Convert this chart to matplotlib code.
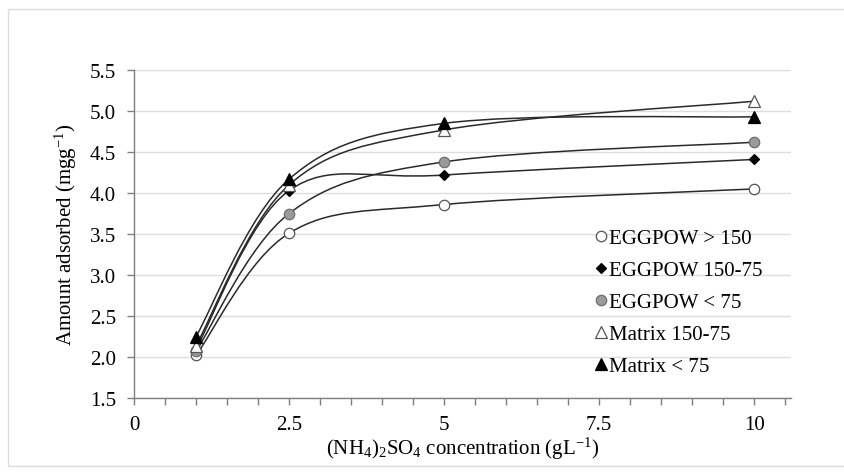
import matplotlib
matplotlib.use("Agg")
import matplotlib.pyplot as plt
from matplotlib.path import Path
from matplotlib.patches import PathPatch, Rectangle

plt.rcParams['font.family'] = ['Liberation Serif', 'DejaVu Serif']
plt.rcParams['mathtext.fontset'] = 'custom'
plt.rcParams['mathtext.rm'] = 'Liberation Serif'
plt.rcParams['mathtext.it'] = 'Liberation Serif:italic'

# data
conc = [1, 2.5, 5, 10]
eggpow_gt150 = [2.02, 3.51, 3.86, 4.05]
eggpow_150_75 = [2.10, 4.03, 4.22, 4.41]
eggpow_lt75 = [2.07, 3.75, 4.38, 4.62]
matrix_150_75 = [2.14, 4.10, 4.77, 5.12]
matrix_lt75 = [2.25, 4.17, 4.85, 4.93]

labels = ["EGGPOW > 150", "EGGPOW 150-75", "EGGPOW < 75", "Matrix 150-75", "Matrix < 75"]
x_ticks = [0, 2.5, 5, 7.5, 10]
x_tick_labels = ["0", "2.5", "5", "7.5", "10"]


def smooth_path(xs, ys):
    # Excel-like smoothed line: Bezier segments with Catmull-Rom control points
    pts = list(zip(xs, ys))
    n = len(pts)
    verts = [pts[0]]
    codes = [Path.MOVETO]
    for i in range(n - 1):
        p_prev = pts[i - 1] if i > 0 else pts[i]
        p0 = pts[i]
        p1 = pts[i + 1]
        p_next = pts[i + 2] if i + 2 < n else pts[i + 1]
        c1 = (p0[0] + (p1[0] - p_prev[0]) / 6, p0[1] + (p1[1] - p_prev[1]) / 6)
        c2 = (p1[0] - (p_next[0] - p0[0]) / 6, p1[1] - (p_next[1] - p0[1]) / 6)
        verts += [c1, c2, p1]
        codes += [Path.CURVE4] * 3
    return Path(verts, codes)


fig = plt.figure(figsize=(8.45, 4.77), dpi=100)
ax = fig.add_axes([0.1586, 0.1635, 0.778, 0.6875])

# faint outer frame of the chart area
fig.patches.append(Rectangle((0.01, 0.022), 1.2, 0.957, transform=fig.transFigure,
                             fill=False, edgecolor='#dcdcdc', linewidth=1))

series = [eggpow_gt150, eggpow_150_75, eggpow_lt75, matrix_150_75, matrix_lt75]
styles = [
    dict(marker='o', markerfacecolor='white', markeredgecolor='#555555', markersize=7.5),
    dict(marker='D', markerfacecolor='black', markeredgecolor='black', markersize=5.5),
    dict(marker='o', markerfacecolor='#9a9a9a', markeredgecolor='#6e6e6e', markersize=7.5),
    dict(marker='^', markerfacecolor='white', markeredgecolor='#555555', markersize=8),
    dict(marker='^', markerfacecolor='black', markeredgecolor='black', markersize=8),
]

for ys in series:
    ax.add_patch(PathPatch(smooth_path(conc, ys), fill=False, edgecolor='#2a2a2a',
                           linewidth=1.1, zorder=2))

for ys, lab, st in zip(series, labels, styles):
    ax.plot(conc, ys, linestyle='none', label=lab, zorder=3, markeredgewidth=0.9, **st)

ax.set_xlim(0, 10.6)
ax.set_ylim(1.5, 5.5)
ax.set_xticks(x_ticks)
ax.set_xticklabels(x_tick_labels)
ax.set_xticks([v * 0.5 for v in range(22) if v * 0.5 <= 10.6], minor=True)
ax.set_yticks([1.5 + 0.5 * i for i in range(9)])
ax.yaxis.set_major_formatter(matplotlib.ticker.FormatStrFormatter('%.1f'))

ax.grid(axis='y', color='#dddddd', linewidth=1)
ax.set_axisbelow(True)
for s in ['top', 'right']:
    ax.spines[s].set_visible(False)
for s in ['left', 'bottom']:
    ax.spines[s].set_color('#7f7f7f')
    ax.spines[s].set_linewidth(1)

ax.tick_params(axis='both', which='both', colors='#7f7f7f', labelcolor='black',
               labelsize=15, length=5, width=1)
ax.tick_params(axis='x', which='major', pad=7)
ax.tick_params(axis='y', which='major', pad=8)

ax.set_xlabel('(NH$_4$)$_2$SO$_4$ concentration (gL$^{-1}$)', fontsize=15, labelpad=1)
ax.set_ylabel('Amount adsorbed (mgg$^{-1}$)', fontsize=15, labelpad=8)

ax.legend(loc='upper left', bbox_to_anchor=(584 / 845, 1 - 219 / 477),
          bbox_transform=fig.transFigure, frameon=False, fontsize=15,
          handlelength=0.6, handletextpad=0.1, labelspacing=0.6, borderpad=0)

fig.savefig('out.png', dpi=100)
